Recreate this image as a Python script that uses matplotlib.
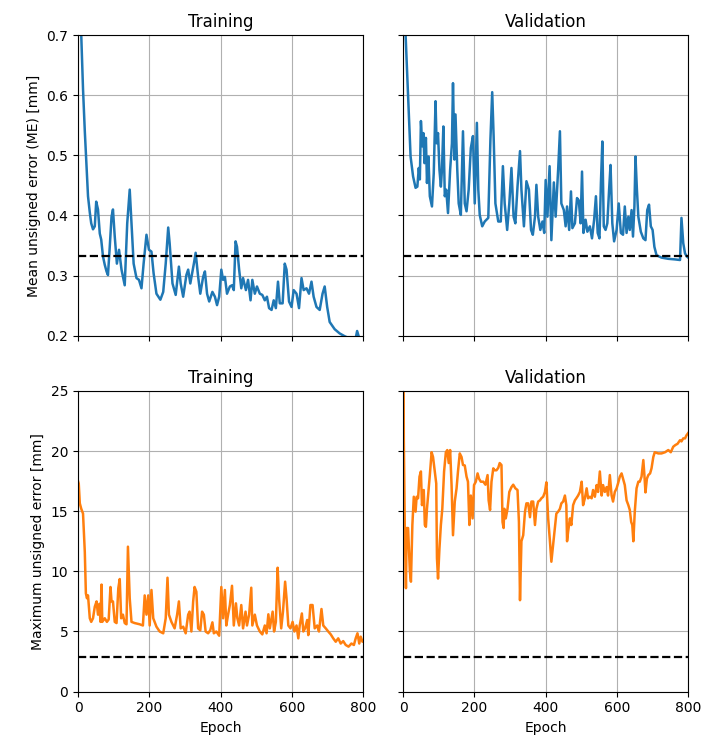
import matplotlib.pyplot as plt

# mean unsigned error, training
me_train_ep = [0, 4, 9, 14, 19, 24, 28, 33, 37, 42, 47, 51, 56, 61, 65, 70, 75, 80, 84, 89, 94, 98,
               103, 109, 115, 122, 131, 138, 145, 150, 156, 164, 171, 178, 184, 192, 199, 206, 212,
               220, 231, 239, 246, 253, 257, 265, 274, 283, 288, 295, 304, 309, 315, 325, 330, 337,
               343, 351, 356, 362, 368, 377, 384, 390, 396, 402, 407, 412, 418, 426, 432, 437, 442,
               446, 452, 458, 463, 471, 477, 484, 489, 496, 502, 510, 517, 524, 530, 536, 543, 549,
               555, 561, 566, 574, 580, 585, 592, 599, 605, 613, 620, 627, 633, 641, 648, 655, 661,
               669, 678, 686, 692, 699, 706, 720, 734, 749, 765, 778, 783, 789, 795, 800]
me_train = [0.98, 0.82, 0.70, 0.61, 0.54, 0.48, 0.432, 0.405, 0.387, 0.377, 0.382, 0.423, 0.41,
            0.37, 0.36, 0.332, 0.318, 0.307, 0.301, 0.348, 0.398, 0.41, 0.365, 0.32, 0.343, 0.31,
            0.284, 0.387, 0.443, 0.387, 0.32, 0.296, 0.293, 0.279, 0.32, 0.368, 0.343, 0.34, 0.304,
            0.27, 0.26, 0.273, 0.32, 0.38, 0.354, 0.287, 0.268, 0.315, 0.287, 0.265, 0.301, 0.31,
            0.287, 0.32, 0.338, 0.298, 0.27, 0.298, 0.307, 0.27, 0.257, 0.273, 0.265, 0.251, 0.265,
            0.31, 0.293, 0.298, 0.27, 0.282, 0.284, 0.276, 0.357, 0.348, 0.31, 0.279, 0.296, 0.276,
            0.293, 0.259, 0.293, 0.27, 0.282, 0.27, 0.268, 0.259, 0.265, 0.246, 0.243, 0.259,
            0.246, 0.29, 0.254, 0.254, 0.32, 0.31, 0.257, 0.248, 0.276, 0.27, 0.246, 0.296, 0.276,
            0.279, 0.27, 0.29, 0.265, 0.248, 0.243, 0.27, 0.282, 0.248, 0.223, 0.211, 0.204, 0.199,
            0.195, 0.193, 0.208, 0.196, 0.194, 0.193]

# mean unsigned error, validation
me_val_ep = [0, 4, 7, 14, 21, 28, 35, 40, 44, 47, 50, 54, 57, 60, 64, 67, 71, 75, 81, 86, 91, 94,
             98, 102, 106, 109, 113, 117, 121, 126, 132, 137, 140, 144, 147, 152, 156, 162, 168,
             173, 178, 184, 190, 196, 201, 207, 211, 215, 222, 229, 239, 245, 250, 254, 259, 267,
             274, 280, 285, 292, 298, 304, 310, 315, 321, 328, 332, 339, 346, 353, 359, 364, 370,
             374, 379, 385, 391, 396, 400, 405, 411, 416, 423, 428, 435, 440, 444, 451, 456, 460,
             466, 471, 475, 482, 488, 493, 498, 502, 506, 512, 517, 524, 530, 536, 541, 546, 551,
             555, 559, 563, 568, 573, 578, 582, 587, 592, 599, 605, 611, 617, 622, 627, 632, 636,
             641, 645, 649, 652, 656, 660, 667, 674, 680, 685, 690, 695, 700, 705, 711, 725, 744,
             763, 777, 781, 786, 791, 796, 800]
me_val = [0.95, 0.80, 0.70, 0.598, 0.498, 0.465, 0.446, 0.448, 0.479, 0.46, 0.557, 0.515, 0.537,
          0.487, 0.529, 0.454, 0.498, 0.432, 0.415, 0.47, 0.59, 0.52, 0.537, 0.476, 0.448, 0.476,
          0.548, 0.432, 0.443, 0.404, 0.476, 0.52, 0.62, 0.493, 0.568, 0.476, 0.42, 0.401, 0.54,
          0.42, 0.407, 0.443, 0.512, 0.532, 0.42, 0.554, 0.443, 0.401, 0.382, 0.39, 0.396, 0.526,
          0.605, 0.532, 0.42, 0.39, 0.39, 0.482, 0.42, 0.376, 0.42, 0.479, 0.398, 0.387, 0.448,
          0.507, 0.443, 0.382, 0.457, 0.443, 0.376, 0.368, 0.398, 0.451, 0.398, 0.376, 0.39,
          0.371, 0.459, 0.398, 0.482, 0.359, 0.455, 0.398, 0.476, 0.54, 0.42, 0.409, 0.382, 0.415,
          0.376, 0.44, 0.379, 0.387, 0.429, 0.425, 0.387, 0.473, 0.371, 0.393, 0.373, 0.382,
          0.362, 0.393, 0.432, 0.371, 0.362, 0.454, 0.523, 0.382, 0.376, 0.387, 0.443, 0.484,
          0.387, 0.357, 0.376, 0.42, 0.371, 0.368, 0.415, 0.371, 0.398, 0.376, 0.409, 0.365,
          0.415, 0.498, 0.443, 0.398, 0.373, 0.362, 0.359, 0.409, 0.418, 0.382, 0.376, 0.348,
          0.334, 0.33, 0.328, 0.327, 0.326, 0.396, 0.354, 0.337, 0.332, 0.33]

# maximum unsigned error, training
max_train_ep = [0, 2, 5, 9, 14, 19, 22, 25, 28, 33, 37, 42, 47, 52, 56, 60, 63, 66, 68, 75, 81, 86,
                91, 94, 98, 103, 108, 113, 117, 121, 126, 131, 136, 140, 145, 150, 159, 173, 182,
                187, 192, 197, 201, 206, 211, 220, 229, 239, 246, 251, 255, 262, 271, 278, 283,
                288, 295, 302, 309, 313, 318, 323, 327, 332, 337, 343, 348, 353, 358, 365, 371,
                377, 381, 388, 396, 402, 407, 412, 416, 421, 426, 432, 437, 443, 447, 452, 458,
                463, 470, 474, 480, 486, 489, 496, 502, 510, 517, 524, 529, 534, 538, 546, 550,
                555, 560, 564, 570, 575, 581, 585, 590, 596, 602, 607, 613, 618, 622, 628, 632,
                637, 643, 646, 652, 658, 664, 671, 676, 683, 688, 695, 702, 709, 716, 723, 730,
                737, 744, 751, 759, 767, 774, 779, 784, 789, 793, 798, 800]
max_train = [17.5, 17.3, 15.65, 15.2, 14.8, 11.6, 8.17, 7.76, 8.0, 6.1, 5.8, 6.1, 7.06, 7.5, 6.4,
             7.3, 5.8, 8.9, 5.8, 6.1, 5.8, 6.0, 8.7, 7.5, 7.5, 5.8, 5.7, 8.6, 9.36, 6.1, 6.4, 5.7,
             5.6, 12.05, 7.76, 5.8, 5.7, 5.6, 5.5, 8.0, 6.4, 8.0, 5.5, 8.45, 6.1, 5.4, 5.0, 4.85,
             6.1, 9.47, 6.4, 5.8, 5.26, 6.4, 7.5, 5.26, 5.4, 4.85, 6.4, 6.65, 5.0, 7.5, 8.7, 8.3,
             5.26, 5.1, 6.65, 6.4, 5.0, 4.85, 5.1, 5.76, 4.85, 5.0, 4.65, 8.7, 6.1, 8.45, 5.5, 6.4,
             7.2, 8.8, 5.5, 7.34, 6.1, 5.5, 7.2, 5.26, 6.65, 5.5, 6.4, 8.64, 5.5, 6.4, 5.5, 5.0,
             4.76, 5.5, 4.85, 6.43, 5.26, 6.65, 5.0, 5.8, 10.3, 7.76, 5.26, 6.65, 9.14, 7.76, 5.5,
             5.26, 5.8, 5.0, 5.5, 4.43, 5.5, 6.5, 5.0, 5.26, 5.96, 4.7, 7.2, 7.2, 5.26, 5.5, 5.0,
             6.87, 5.5, 5.26, 5.0, 4.76, 4.43, 4.15, 4.43, 4.0, 4.2, 3.88, 3.74, 4.0, 3.88, 4.43,
             4.85, 4.0, 4.57, 4.15, 4.2]

# maximum unsigned error, validation
max_val_ep = [0, 2, 5, 8, 10, 14, 19, 22, 26, 30, 35, 38, 42, 46, 50, 53, 58, 61, 64, 67, 71, 75,
              80, 84, 89, 93, 95, 98, 102, 106, 110, 115, 120, 124, 128, 132, 136, 140, 145, 150,
              154, 159, 164, 168, 173, 178, 182, 186, 190, 195, 199, 204, 209, 213, 218, 225, 231,
              237, 240, 244, 248, 253, 257, 262, 267, 271, 276, 279, 282, 284, 288, 293, 298, 304,
              309, 315, 321, 325, 328, 332, 337, 342, 346, 351, 356, 360, 365, 370, 374, 379, 384,
              388, 393, 398, 402, 407, 412, 416, 421, 426, 430, 435, 440, 444, 449, 454, 458, 460,
              463, 468, 472, 477, 482, 486, 491, 496, 501, 505, 510, 515, 519, 524, 529, 533, 538,
              543, 547, 552, 557, 561, 566, 571, 575, 580, 585, 589, 594, 599, 603, 608, 613, 617,
              622, 627, 632, 636, 640, 643, 646, 650, 655, 660, 664, 669, 674, 677, 680, 684, 688,
              693, 697, 702, 706, 716, 725, 735, 744, 751, 758, 764, 770, 777, 781, 786, 791, 795,
              800]
max_val = [40.0, 21.0, 13.0, 8.6, 13.6, 13.6, 10.0, 9.14, 13.85, 16.2, 14.96, 16.2, 16.07, 17.87,
           18.3, 15.5, 16.76, 13.85, 13.7, 15.2, 16.6, 18.0, 19.9, 19.5, 18.3, 17.3, 11.1, 9.4,
           11.9, 13.85, 15.2, 18.3, 19.9, 20.08, 19.0, 20.08, 17.17, 13.0, 15.8, 16.9, 18.3, 19.8,
           19.5, 18.84, 18.8, 17.87, 17.45, 13.85, 16.3, 14.4, 17.17, 17.45, 18.14, 17.7, 17.45,
           17.45, 17.2, 18.0, 15.9, 15.1, 17.45, 18.56, 18.4, 18.4, 18.6, 19.0, 18.84, 14.1, 13.6,
           15.2, 14.4, 15.2, 16.6, 17.0, 17.2, 16.9, 16.76, 14.1, 7.6, 12.5, 13.0, 14.96, 15.65,
           15.65, 14.5, 15.8, 15.8, 13.85, 15.2, 15.8, 15.9, 16.07, 16.2, 16.6, 17.4, 14.4, 12.5,
           10.8, 12.2, 13.6, 14.8, 14.96, 15.2, 15.65, 15.8, 16.3, 15.5, 12.5, 13.3, 14.4, 13.85,
           15.5, 15.9, 16.07, 16.3, 16.6, 17.45, 15.5, 16.07, 16.9, 16.07, 16.2, 16.07, 16.76,
           16.2, 17.17, 16.6, 18.3, 16.3, 17.17, 16.6, 17.0, 16.3, 18.0, 16.3, 15.8, 16.6, 16.9,
           17.3, 17.87, 18.14, 17.7, 17.17, 15.9, 15.5, 15.1, 14.1, 13.85, 12.5, 14.96, 16.9,
           17.45, 17.45, 17.87, 19.25, 18.0, 16.56, 17.7, 18.0, 18.14, 18.56, 19.5, 19.9, 19.8,
           19.8, 19.9, 20.08, 19.9, 20.36, 20.5, 20.6, 20.9, 20.8, 21.05, 21.05, 21.3, 21.5]

me_ref = 0.333
max_ref = 2.9

fig, axes = plt.subplots(2, 2, figsize=(7.03, 7.45), sharex=True, sharey='row')
fig.subplots_adjust(left=0.111, right=0.979, top=0.953, bottom=0.0716, wspace=0.14, hspace=0.183)

series = [(me_train_ep, me_train, 'C0'), (me_val_ep, me_val, 'C0'),
          (max_train_ep, max_train, 'C1'), (max_val_ep, max_val, 'C1')]
titles = ['Training', 'Validation', 'Training', 'Validation']

for ax, (ep, val, col), title in zip(axes.flat, series, titles):
    ax.plot(ep, val, color=col, lw=1.8)
    ax.grid(True)
    ax.set_axisbelow(True)
    ax.set_title(title)

for ax in axes[0]:
    ax.axhline(me_ref, color='black', ls='--', lw=1.6)
for ax in axes[1]:
    ax.axhline(max_ref, color='black', ls='--', lw=1.6)
    ax.set_xlabel('Epoch')

axes[0, 0].set_ylim(0.2, 0.7)
axes[1, 0].set_ylim(0, 25)
axes[0, 0].set_xlim(0, 800)
axes[0, 0].set_ylabel('Mean unsigned error (ME) [mm]')
axes[1, 0].set_ylabel('Maximum unsigned error [mm]')

plt.savefig('out.png', dpi=100)
